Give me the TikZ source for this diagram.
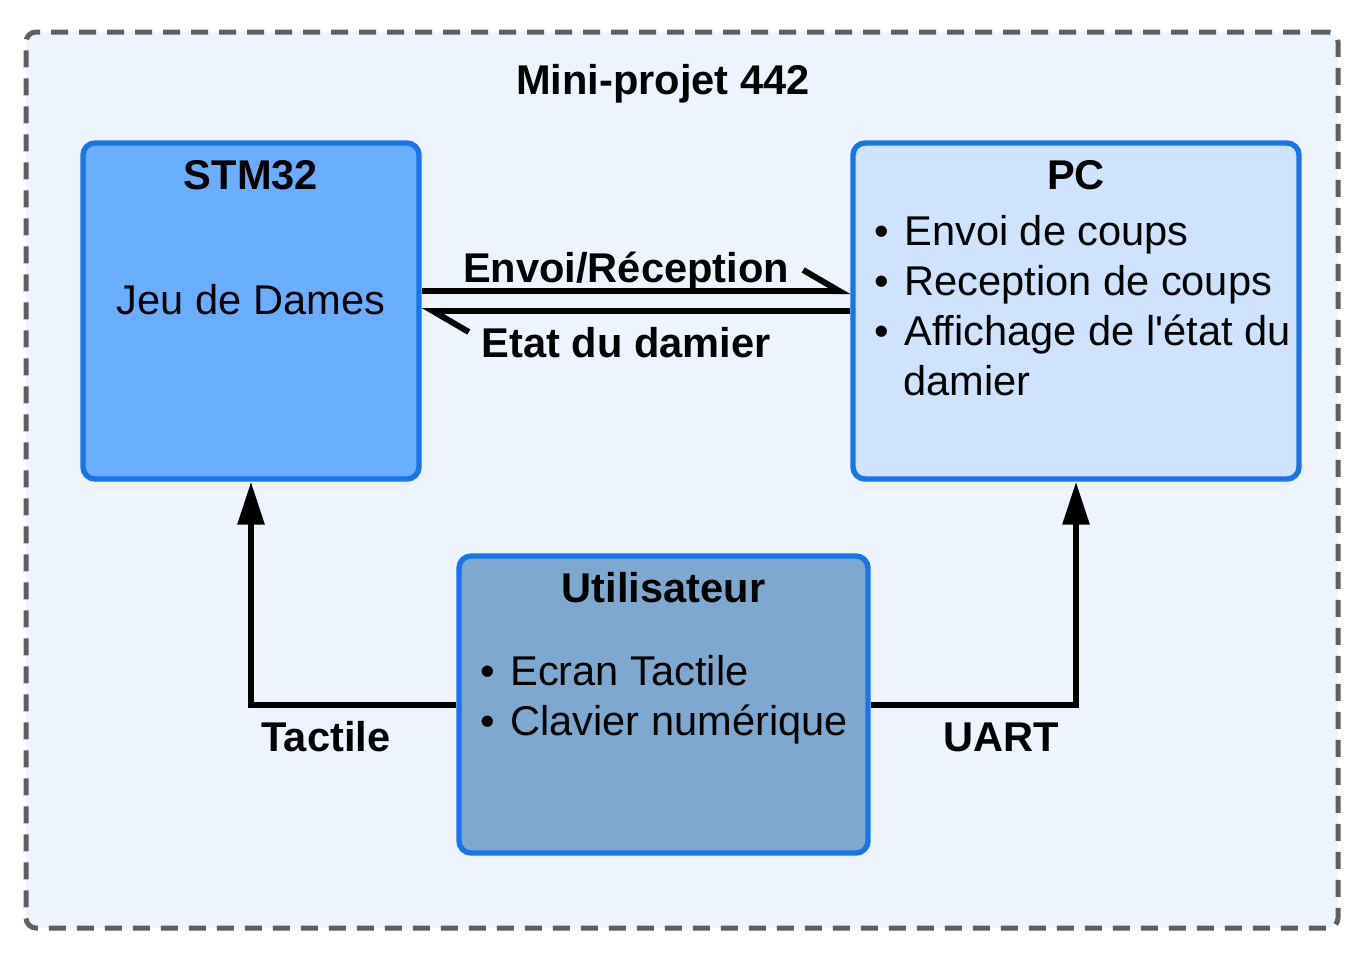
\documentclass[tikz,border=0pt]{standalone}
\usepackage{fontspec}
\setmainfont{Liberation Sans}
\usetikzlibrary{arrows.meta}

\definecolor{bgblue}{HTML}{EDF4FE}
\definecolor{framegray}{HTML}{5F5F5F}
\definecolor{edgeblue}{HTML}{1A73E8}
\definecolor{stmfill}{HTML}{6AAFFF}
\definecolor{pcfill}{HTML}{CFE3FD}
\definecolor{userfill}{HTML}{7EA8D0}

\newcommand{\itm}{\makebox[15pt][l]{\textbullet}}

\tikzset{
  box/.style={draw=edgeblue, line width=2.7pt, rounded corners=6pt, inner sep=0pt},
  txt/.style={anchor=base, inner sep=0pt, font=\fontsize{20.8pt}{25pt}\selectfont},
  bold/.style={txt, font=\fontsize{20.8pt}{25pt}\selectfont\bfseries},
  item/.style={txt, anchor=base west},
  conn/.style={line width=3pt, -{Triangle[length=21.5pt,width=13pt]}},
  link/.style={line width=3pt, -{Straight Barb[left,length=18pt,width=21pt,sharp]}}
}

\begin{document}
\begin{tikzpicture}[x=0.5pt,y=-0.5pt]
\useasboundingbox (0,0) rectangle (1361,953);
% outer frame
\node[draw=framegray, fill=bgblue, line width=2.5pt, dash pattern=on 8.5pt off 5.5pt,
  rounded corners=5pt, minimum width=656pt, minimum height=448pt] (frame) at (682,480) {};
\node[bold] (title) at (663,94) {Mini-projet 442};

% boxes
\node[box, fill=stmfill, minimum width=168pt, minimum height=168pt] (stm) at (251,311) {};
\node[box, fill=pcfill, minimum width=223pt, minimum height=168pt] (pc) at (1076,311) {};
\node[box, fill=userfill, minimum width=204.5pt, minimum height=148.5pt] (user) at (663.5,704.5) {};

% STM32
\node[bold] (stmtitle) at (251,189) {STM32};
\node[txt] (game) at (251,314) {Jeu de Dames};

% PC
\node[bold] (pctitle) at (1076,189) {PC};
\foreach \t [count=\i] in {Envoi de coups, Reception de coups, Affichage de l\textquotesingle état du}
\node[item] (pc\i) at (874,195+50*\i) {\itm\t};
\node[item] (pc4) at (903,395) {damier};

% Utilisateur
\node[bold] (usertitle) at (663.5,602) {Utilisateur};
\node[item] (user1) at (480,685) {\itm Ecran Tactile};
\node[item] (user2) at (480,735) {\itm Clavier numérique};

% links
\draw[link] ([yshift=10pt]stm.east) -- ([yshift=10pt]pc.west);
\draw[link] (pc.west) -- (stm.east);
\node[bold] (send) at (626,282) {Envoi/Réception};
\node[bold] (state) at (626,357) {Etat du damier};

\draw[conn] (user.west) -| (stm.south);
\draw[conn] (user.east) -| (pc.south);
\node[bold] (touch) at (326,751) {Tactile};
\node[bold] (uart) at (1001,751) {UART};
\end{tikzpicture}
\end{document}
